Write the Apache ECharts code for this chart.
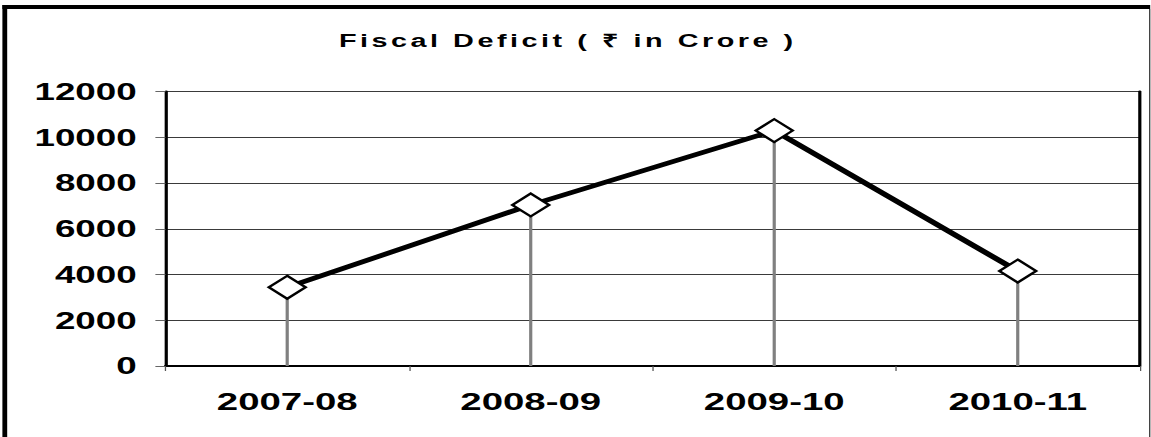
<!DOCTYPE html>
<html><head><meta charset="utf-8">
<script src="https://cdn.jsdelivr.net/npm/echarts@6/dist/echarts.min.js"></script>
<style>
html,body{margin:0;padding:0;background:#fff;overflow:hidden;}
#wrap{width:1151px;height:437px;overflow:hidden;position:relative;}
#chart{width:720px;height:437px;transform:scaleX(1.598611);transform-origin:0 0;}
#chart svg text[style*="18px"]{letter-spacing:2.2px;}
</style></head>
<body><div id="wrap"><div id="chart"></div></div>
<script>
const titleText = 'Fiscal Deficit ( \u20B9 in Crore )';
const categories = ['2007-08', '2008-09', '2009-10', '2010-11'];
const deficitValues = [3440, 7040, 10290, 4150];
const yMin = 0, yMax = 12000, yInterval = 2000;

const FONT = 'Liberation Sans, Arial, sans-serif';
const chart = echarts.init(document.getElementById('chart'), null, {renderer: 'svg'});
chart.setOption({
  animation: false,
  backgroundColor: '#fff',
  title: {
    text: titleText,
    left: 212, top: 32, padding: 0,
    textStyle: {fontFamily: FONT, fontSize: 18, fontWeight: 'bold', color: '#000'}
  },
  grid: {left: 103.5, right: 7.2, top: 91.5, bottom: 71, containLabel: false},
  xAxis: {
    type: 'category', data: categories, boundaryGap: true,
    axisLine: {lineStyle: {color: '#000', width: 2}},
    axisTick: {show: true, length: 5, interval: 0, lineStyle: {color: '#555', width: 0.8}},
    axisLabel: {interval: 0, margin: 24, fontFamily: FONT, fontSize: 24, fontWeight: 'bold', color: '#000'},
    splitLine: {show: false}
  },
  yAxis: [{
    type: 'value', min: yMin, max: yMax, interval: yInterval,
    axisLine: {show: true, lineStyle: {color: '#000', width: 2}},
    axisTick: {show: true, length: 6.3, lineStyle: {color: '#666', width: 1}},
    axisLabel: {margin: 18, fontFamily: FONT, fontSize: 23, fontWeight: 'bold', color: '#000',
      formatter: function (v) { return String(v); }},
    splitLine: {show: true, lineStyle: {color: '#3a3a3a', width: 1}}
  }, {
    type: 'value', min: yMin, max: yMax, interval: yInterval, position: 'right',
    axisLine: {show: true, onZero: false, lineStyle: {color: '#000', width: 2}},
    axisTick: {show: false}, axisLabel: {show: false}, splitLine: {show: false}
  }],
  graphic: [
    {type: 'line', shape: {x1: 3, y1: 5, x2: 3, y2: 437}, style: {stroke: '#000', lineWidth: 3}},
    {type: 'line', shape: {x1: 1.5, y1: 7, x2: 719.5, y2: 7}, style: {stroke: '#000', lineWidth: 4}},
    {type: 'line', shape: {x1: 719.2, y1: 9, x2: 719.2, y2: 437}, style: {stroke: '#333', lineWidth: 0.8}}
  ],
  series: [{
    type: 'bar', data: deficitValues, barWidth: 2, silent: true, z: 1,
    itemStyle: {color: '#808080'}
  }, {
    type: 'line', data: deficitValues, z: 3,
    symbol: 'diamond', symbolSize: 23,
    lineStyle: {color: '#000', width: 4.6},
    itemStyle: {color: '#fff', borderColor: '#000', borderWidth: 2}
  }]
});
</script>
</body></html>
